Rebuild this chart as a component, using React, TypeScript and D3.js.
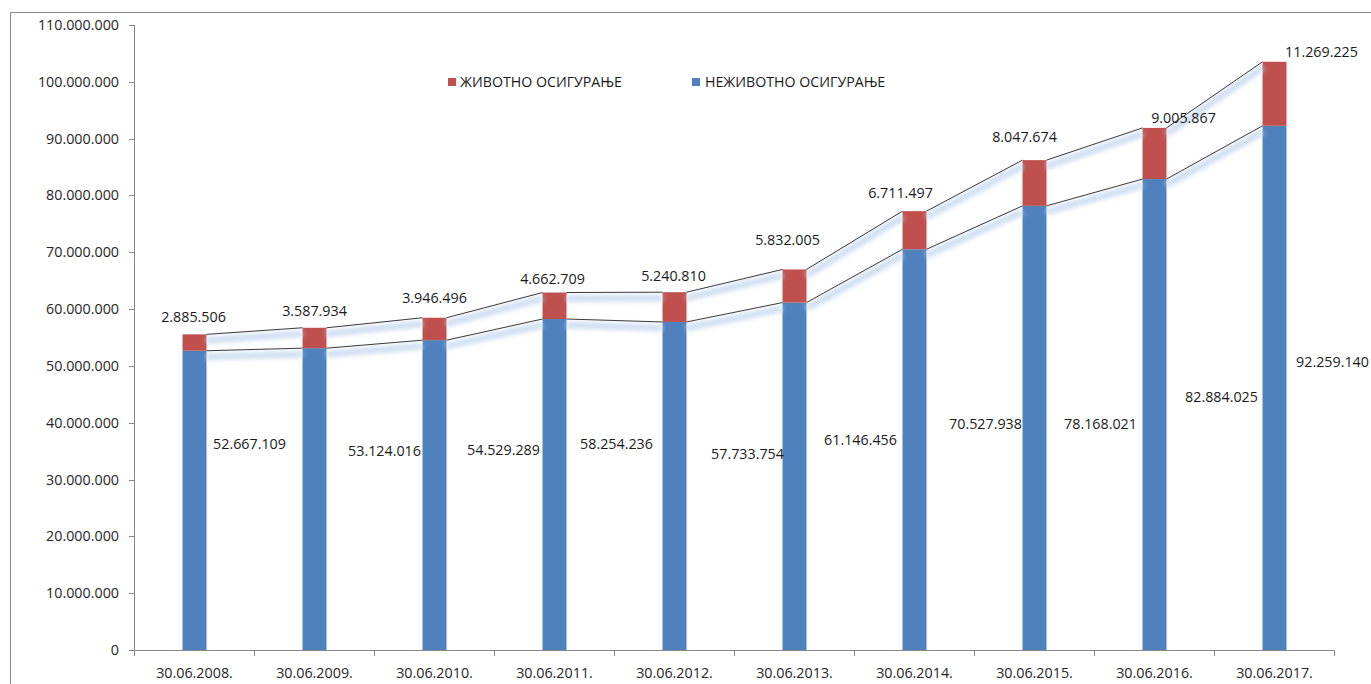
import React from 'react';
import * as d3 from 'd3';

const categories = [
  '30.06.2008.', '30.06.2009.', '30.06.2010.', '30.06.2011.', '30.06.2012.',
  '30.06.2013.', '30.06.2014.', '30.06.2015.', '30.06.2016.', '30.06.2017.',
];
const nonLife = [
  52667109, 53124016, 54529289, 58254236, 57733754,
  61146456, 70527938, 78168021, 82884025, 92259140,
];
const life = [
  2885506, 3587934, 3946496, 4662709, 5240810,
  5832005, 6711497, 8047674, 9005867, 11269225,
];
const yTicks = d3.range(0, 110000001, 10000000);

// hand-placed data label anchors, as in the source chart (dx in px, y in value units)
const lifeLabelDx = [-1, 0, 0, -2, -1, -7, -14, -10, 29, 47];
const lifeLabelY = [58.6e6, 59.7e6, 62.0e6, 65.3e6, 65.8e6, 72.2e6, 80.4e6, 90.3e6, 93.6e6, 105.2e6];
const nonLifeLabelDx = [55, 70, 69, 62, 73, 66, 71, 66, 67, 58];
const nonLifeLabelY = [36.3e6, 35.0e6, 35.2e6, 36.3e6, 34.5e6, 37.0e6, 39.8e6, 39.8e6, 44.5e6, 50.7e6];

const W = 1371;
const H = 684;
const FONT = '"Open Sans", "Noto Sans", sans-serif';
const BLUE = '#4f81bd';
const RED = '#c0504d';
const AXIS = '#868686';

const fmt = d3.formatLocale({ decimal: ',', thousands: '.', grouping: [3], currency: ['', ''] }).format(',d');

export default function App() {
  const x = d3.scaleBand<string>()
    .domain(categories)
    .range([134.5, 1334.5])
    .paddingInner(0.8)
    .paddingOuter(0.4);
  const y = d3.scaleLinear().domain([0, 110000000]).range([650, 25]);
  const bw = x.bandwidth();
  const step = x.step();
  const totals = nonLife.map((v, i) => v + life[i]);

  const seriesPath = (vals: number[]) => {
    const p = d3.path();
    for (let i = 0; i < vals.length - 1; i++) {
      p.moveTo(x(categories[i])! + bw, y(vals[i]));
      p.lineTo(x(categories[i + 1])!, y(vals[i + 1]));
    }
    return p.toString();
  };

  const tickEdges = d3.range(categories.length + 1).map((i) => 134.5 + i * step);

  return (
    <svg width={W} height={H} style={{ position: 'absolute', left: 0, top: 0, background: '#fff' }}
      fontFamily={FONT}>
      <defs>
        <filter id="glow" x="-5%" y="-50%" width="110%" height="200%">
          <feGaussianBlur stdDeviation="2.4" />
        </filter>
      </defs>
      <rect x={10.5} y={12.5} width={1400} height={700} fill="#fff" stroke="#8c8c8c" />

      {/* y axis */}
      <line x1={134.5} x2={134.5} y1={y(110000000)} y2={650} stroke={AXIS} />
      {yTicks.map((t) => (
        <g key={t}>
          <line x1={129} x2={134.5} y1={Math.round(y(t)) + 0.5} y2={Math.round(y(t)) + 0.5} stroke={AXIS} />
          <text x={119} y={y(t)} dy="0.35em" textAnchor="end" fontSize={14.3} fill="#262626">{fmt(t)}</text>
        </g>
      ))}

      {/* bars */}
      {categories.map((c, i) => (
        <g key={c}>
          <rect x={x(c)} y={y(nonLife[i])} width={bw} height={y(0) - y(nonLife[i])} fill={BLUE} />
          <rect x={x(c)} y={y(totals[i])} width={bw} height={y(nonLife[i]) - y(totals[i])} fill={RED} />
        </g>
      ))}

      {/* x axis */}
      <line x1={134.5} x2={1334.5} y1={650.5} y2={650.5} stroke={AXIS} />
      {tickEdges.map((tx) => (
        <line key={tx} x1={tx} x2={tx} y1={650.5} y2={656} stroke={AXIS} />
      ))}
      {categories.map((c) => (
        <text key={c} x={x(c)! + bw / 2} y={673} dy="0.35em" textAnchor="middle" fontSize={14.3} fill="#262626">{c}</text>
      ))}

      {/* series lines with soft glow */}
      {[nonLife, totals].map((vals, k) => (
        <g key={k}>
          <path d={seriesPath(vals)} transform="translate(0,6)" fill="none" stroke="#c2d5ee" strokeWidth={6}
            filter="url(#glow)" opacity={0.9} />
          <path d={seriesPath(vals)} fill="none" stroke="#3a3a3a" strokeWidth={1} />
        </g>
      ))}

      {/* data labels */}
      {categories.map((c, i) => {
        const cx = x(c)! + bw / 2;
        return (
          <g key={c} fontSize={14.3} fill="#1a1a1a" textAnchor="middle">
            <text x={cx + lifeLabelDx[i]} y={y(lifeLabelY[i])} dy="0.35em">{fmt(life[i])}</text>
            <text x={cx + nonLifeLabelDx[i]} y={y(nonLifeLabelY[i])} dy="0.35em">{fmt(nonLife[i])}</text>
          </g>
        );
      })}

      {/* legend */}
      <g fontSize={14.2} fill="#1a1a1a">
        <rect x={448} y={78} width={8} height={8} fill={RED} />
        <text x={460} y={82} dy="0.35em">ЖИВОТНО ОСИГУРАЊЕ</text>
        <rect x={692} y={78} width={8} height={8} fill={BLUE} />
        <text x={705} y={82} dy="0.35em">НЕЖИВОТНО ОСИГУРАЊЕ</text>
      </g>
    </svg>
  );
}
